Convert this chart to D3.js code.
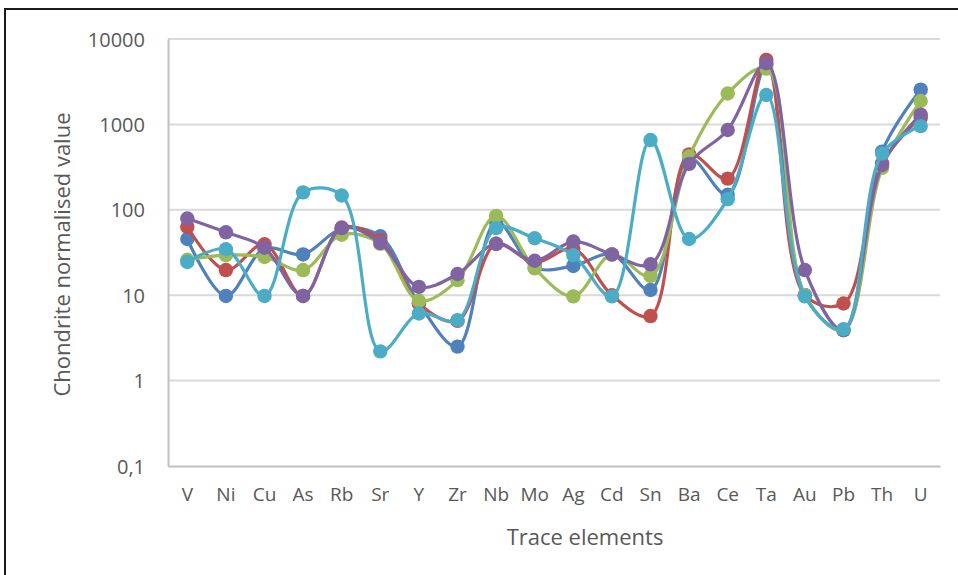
<!DOCTYPE html>
<html>
<head>
<meta charset="utf-8">
<script src="https://cdn.jsdelivr.net/npm/d3@7"></script>
<style>
  html, body { margin: 0; padding: 0; background: #ffffff; }
  svg { display: block; }
  text { font-family: "Open Sans", "Noto Sans", sans-serif; fill: #595959; }
</style>
</head>
<body>
<svg id="chart" width="958" height="575"></svg>
<script>
// Trace elements along the x axis
const elements = ["V","Ni","Cu","As","Rb","Sr","Y","Zr","Nb","Mo","Ag","Cd","Sn","Ba","Ce","Ta","Au","Pb","Th","U"];

// Chondrite-normalised values, one array per sample
const sampleBlue   = [45.5, 9.8, 35, 30, 60, 49, 8, 2.5, 72, 21, 22, 30, 11.5, 400, 150, 5000, 10, 3.9, 480, 2550];
const sampleRed    = [63, 19.7, 39.5, 9.8, 62, 44, 8, 5, 40, 24, 35, 10, 5.7, 445, 232, 5700, 10, 8, 350, 1200];
const sampleGreen  = [26, 29.5, 28, 19.7, 51, 40, 8.6, 15, 85, 20.6, 9.7, 30, 16.8, 420, 2300, 4500, 10, 3.9, 310, 1880];
const samplePurple = [79, 54.5, 36, 9.8, 61, 41, 12.5, 17.7, 40, 25.3, 42.5, 30, 23, 345, 860, 5200, 19.7, 3.9, 335, 1300];
const sampleCyan   = [24.5, 34.5, 9.8, 160, 147, 2.2, 6.1, 5.1, 61, 46.4, 29.5, 9.7, 656, 45.5, 133, 2210, 9.7, 4.0, 455, 955];

// Log-axis ticks and their printed labels (decimal comma)
const yTicks = [0.1, 1, 10, 100, 1000, 10000];
const yTickLabels = ["0,1", "1", "10", "100", "1000", "10000"];

const seriesColors = ["#4f81bd", "#c0504d", "#9bbb59", "#8064a2", "#4bacc6"];
const seriesData = [sampleBlue, sampleRed, sampleGreen, samplePurple, sampleCyan];

const svg = d3.select("#chart");

// Chart frame
svg.append("rect")
  .attr("x", 5).attr("y", 9)
  .attr("width", 1000).attr("height", 600)
  .attr("fill", "#ffffff")
  .attr("stroke", "#1a1a1a")
  .attr("stroke-width", 2);

const plot = { left: 168, right: 940, top: 39, bottom: 466 };

const x = d3.scaleBand()
  .domain(elements)
  .range([plot.left, plot.right]);

const y = d3.scaleLog()
  .domain([0.1, 10000])
  .range([plot.bottom, plot.top]);

const cx = d => x(d) + x.bandwidth() / 2;

// Horizontal gridlines
svg.append("g")
  .selectAll("line")
  .data(yTicks.slice(1))
  .join("line")
  .attr("x1", plot.left).attr("x2", plot.right)
  .attr("y1", d => y(d)).attr("y2", d => y(d))
  .attr("stroke", "#d9d9d9")
  .attr("stroke-width", 2);

// Y axis
const yAxis = d3.axisLeft(y)
  .tickValues(yTicks)
  .tickFormat((d, i) => yTickLabels[i])
  .tickSize(0)
  .tickPadding(23);

const gy = svg.append("g")
  .attr("transform", `translate(${plot.left},0)`)
  .call(yAxis);
gy.select(".domain").attr("stroke", "#bfbfbf").attr("stroke-width", 2);
gy.selectAll("text")
  .style("font-size", "20px")
  .attr("fill", "#595959")
  .attr("dy", "0.35em");

// X axis
const xAxis = d3.axisBottom(x).tickSize(0).tickPadding(22);
const gx = svg.append("g")
  .attr("transform", `translate(0,${plot.bottom})`)
  .call(xAxis);
gx.select(".domain").attr("stroke", "#bfbfbf").attr("stroke-width", 2);
gx.selectAll("text")
  .style("font-size", "19px")
  .attr("fill", "#595959");

// Axis titles
svg.append("text")
  .attr("x", (plot.left + plot.right) / 2 + 31)
  .attr("y", 545)
  .attr("text-anchor", "middle")
  .style("font-size", "22px")
  .text("Trace elements");

svg.append("text")
  .attr("transform", `translate(70,${(plot.top + plot.bottom) / 2 + 2}) rotate(-90)`)
  .attr("text-anchor", "middle")
  .style("font-size", "22px")
  .text("Chondrite normalised value");

// Smoothed lines with circular markers
const line = d3.line()
  .x((d, i) => cx(elements[i]))
  .y(d => y(d))
  .curve(d3.curveCatmullRom.alpha(0.5));

seriesData.forEach((vals, s) => {
  const g = svg.append("g");
  g.append("path")
    .datum(vals)
    .attr("d", line)
    .attr("fill", "none")
    .attr("stroke", seriesColors[s])
    .attr("stroke-width", 3.2)
    .attr("stroke-linejoin", "round");
  g.selectAll("circle")
    .data(vals)
    .join("circle")
    .attr("cx", (d, i) => cx(elements[i]))
    .attr("cy", d => y(d))
    .attr("r", 7.2)
    .attr("fill", seriesColors[s]);
});
</script>
</body>
</html>
